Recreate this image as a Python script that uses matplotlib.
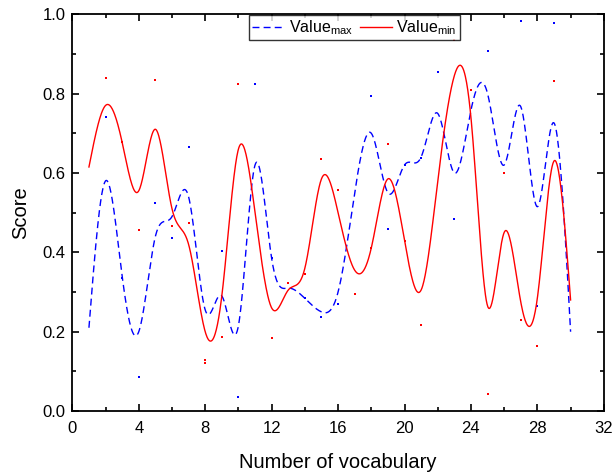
import numpy as np
import matplotlib
matplotlib.use('Agg')
import matplotlib.pyplot as plt
from matplotlib.ticker import MultipleLocator

plt.rcParams['font.family'] = ['Liberation Sans', 'DejaVu Sans']

# data
x = np.arange(1, 31)
value_max = [0.21, 0.58, 0.34, 0.20, 0.44, 0.49, 0.54, 0.255, 0.29, 0.215,
             0.62, 0.385, 0.31, 0.284, 0.25, 0.30, 0.55, 0.70, 0.55, 0.62,
             0.64, 0.75, 0.60, 0.758, 0.80, 0.62, 0.767, 0.515, 0.726, 0.20]
value_min = [0.615, 0.77, 0.677, 0.555, 0.71, 0.51, 0.42, 0.20, 0.29, 0.66,
             0.50, 0.26, 0.305, 0.36, 0.585, 0.50, 0.355, 0.411, 0.585, 0.43,
             0.305, 0.58, 0.845, 0.74, 0.265, 0.45, 0.275, 0.285, 0.63, 0.28]

# small scattered points
red_dot_x = [2, 3, 4, 5, 6, 7, 8, 8, 9, 10, 12, 13, 14, 15, 16, 17, 18, 19, 20,
             21, 23, 24, 25, 26, 27, 28, 29]
red_dot_y = [0.838, 0.677, 0.456, 0.834, 0.466, 0.475, 0.12, 0.128, 0.187, 0.823,
             0.185, 0.322, 0.345, 0.636, 0.558, 0.294, 0.411, 0.672, 0.428,
             0.218, 0.935, 0.81, 0.043, 0.601, 0.229, 0.164, 0.831]
blue_dot_x = [2, 3, 4, 5, 6, 7, 9, 10, 11, 12, 14, 15, 16, 18, 19, 20, 21, 22,
              23, 25, 27, 28, 29]
blue_dot_y = [0.741, 0.336, 0.085, 0.525, 0.437, 0.666, 0.403, 0.036, 0.825,
              0.385, 0.284, 0.236, 0.269, 0.794, 0.46, 0.621, 0.638, 0.855,
              0.485, 0.908, 0.982, 0.264, 0.978]


def natural_spline(xs, ys, n=1200):
    xs = np.asarray(xs, float)
    ys = np.asarray(ys, float)
    k = len(xs)
    h = np.diff(xs)
    A = np.zeros((k, k))
    b = np.zeros(k)
    A[0, 0] = 1
    A[-1, -1] = 1
    for i in range(1, k - 1):
        A[i, i - 1] = h[i - 1]
        A[i, i] = 2 * (h[i - 1] + h[i])
        A[i, i + 1] = h[i]
        b[i] = 6 * ((ys[i + 1] - ys[i]) / h[i] - (ys[i] - ys[i - 1]) / h[i - 1])
    M = np.linalg.solve(A, b)
    xx = np.linspace(xs[0], xs[-1], n)
    idx = np.clip(np.searchsorted(xs, xx) - 1, 0, k - 2)
    x0, x1 = xs[idx], xs[idx + 1]
    hh = x1 - x0
    a = (x1 - xx) / hh
    c = (xx - x0) / hh
    yy = (a * ys[idx] + c * ys[idx + 1]
          + ((a ** 3 - a) * M[idx] + (c ** 3 - c) * M[idx + 1]) * hh ** 2 / 6)
    return xx, yy


fig = plt.figure(figsize=(6.13, 4.72), dpi=100)
ax = fig.add_axes([0.118, 0.129, 0.867, 0.841])

xb, yb = natural_spline(x, value_max)
xr, yr = natural_spline(x, value_min)
ax.plot(xb, yb, color='blue', lw=1.0, linestyle=(0, (5, 3)), label='Value$_{\\mathregular{max}}$')
ax.plot(xr, yr, color='red', lw=1.0, label='Value$_{\\mathregular{min}}$')
ax.scatter(red_dot_x, red_dot_y, s=1.2, marker='s', color='red', linewidths=0)
ax.scatter(blue_dot_x, blue_dot_y, s=1.2, marker='s', color='blue', linewidths=0)

ax.set_xlim(0, 32)
ax.set_ylim(0, 1.0)
ax.xaxis.set_major_locator(MultipleLocator(4))
ax.xaxis.set_minor_locator(MultipleLocator(2))
ax.yaxis.set_major_locator(MultipleLocator(0.2))
ax.yaxis.set_minor_locator(MultipleLocator(0.1))
ax.yaxis.set_major_formatter(matplotlib.ticker.FormatStrFormatter('%.1f'))
ax.tick_params(which='both', direction='in', top=True, right=True, width=1.2,
               labelsize=12, pad=5)
ax.tick_params(axis='x', which='major', pad=7)
ax.tick_params(which='major', length=5)
ax.tick_params(which='minor', length=3)
for s in ax.spines.values():
    s.set_linewidth(1.3)

ax.set_xlabel('Number of vocabulary', fontsize=14.5, labelpad=12)
ax.set_ylabel('Score', fontsize=14.5, labelpad=9)

leg = ax.legend(loc='upper center', bbox_to_anchor=(0.531, 1.0), ncol=2,
                fontsize=11.5, frameon=True, fancybox=False, edgecolor='black',
                borderpad=0.2, handlelength=2.0, handletextpad=0.3,
                columnspacing=0.4, borderaxespad=0.05)
leg.get_frame().set_linewidth(1.0)

fig.savefig('out.png', dpi=100)
